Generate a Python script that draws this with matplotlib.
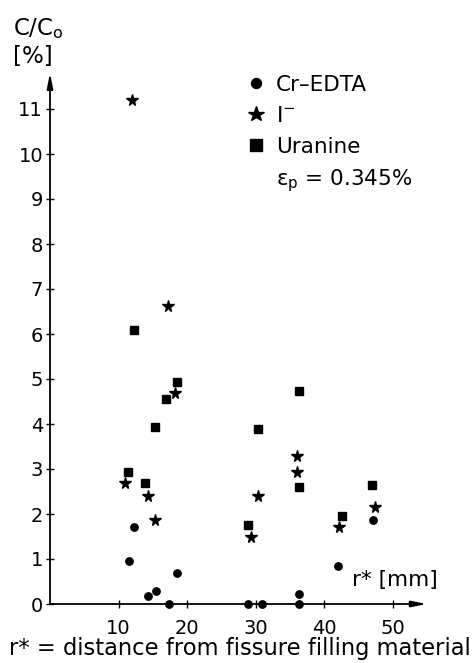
import matplotlib
matplotlib.use('Agg')
import matplotlib.pyplot as plt
from matplotlib.lines import Line2D

plt.rcParams['font.family'] = ['DejaVu Sans']
plt.rcParams['mathtext.fontset'] = 'dejavusans'

# distance r* [mm] and relative concentration C/Co [%]
cr_r = [11.5, 12.2, 14.3, 15.5, 17.4, 18.5, 28.9, 30.9, 36.3, 36.4, 42.0, 47.2]
cr_c = [0.95, 1.71, 0.17, 0.28, 0.0, 0.70, 0.0, 0.0, 0.0, 0.22, 0.85, 1.87]

iod_r = [10.9, 12.0, 14.3, 15.3, 17.2, 18.3, 29.4, 30.4, 36.1, 36.1, 42.2, 47.4]
iod_c = [2.70, 11.2, 2.41, 1.87, 6.62, 4.70, 1.50, 2.40, 3.29, 2.94, 1.72, 2.16]

ura_r = [11.4, 12.2, 13.8, 15.4, 16.9, 18.5, 28.9, 30.4, 36.3, 36.3, 42.6, 47.0]
ura_c = [2.94, 6.10, 2.69, 3.93, 4.56, 4.94, 1.76, 3.89, 4.74, 2.61, 1.96, 2.64]

xticks = [10, 20, 30, 40, 50]
yticks = list(range(12))

W, H = 474, 663
fig = plt.figure(figsize=(W / 100, H / 100), dpi=100)
ax = fig.add_axes([50 / W, 59 / H, 376.75 / W, 531 / H])
ax.set_xlim(0, 55)
ax.set_ylim(0, 11.8)

p_cr, = ax.plot(cr_r, cr_c, 'o', color='black', ms=5.3, clip_on=False)
p_iod, = ax.plot(iod_r, iod_c, '*', color='black', ms=8.5, clip_on=False)
p_ura, = ax.plot(ura_r, ura_c, 's', color='black', ms=6.3, clip_on=False)

for s in ax.spines.values():
    s.set_visible(False)

# axes drawn as arrows
arrow = dict(arrowstyle='-|>,head_length=0.9,head_width=0.18', lw=1.3,
             color='black', shrinkA=0, shrinkB=0)
ax.annotate('', xy=(1, 0), xytext=(0, 0), xycoords='axes fraction', arrowprops=arrow)
ax.annotate('', xy=(0, 1), xytext=(0, 0), xycoords='axes fraction', arrowprops=arrow)

ax.set_xticks(xticks)
ax.set_yticks(yticks)
ax.tick_params(direction='inout', length=6, width=1, labelsize=14)
ax.tick_params(axis='y', pad=2)
ax.tick_params(axis='x', pad=8)

fig.text(352 / W, 1 - 580 / H, 'r* [mm]', fontsize=15.5, va='center', ha='left')
fig.text(240 / W, 1 - 648 / H, 'r* = distance from fissure filling material',
         fontsize=16.3, ha='center', va='center')
fig.text(13 / W, 1 - 29 / H, r'C/C$_\mathregular{o}$', fontsize=16.5, ha='left', va='center')
fig.text(13 / W, 1 - 57 / H, '[%]', fontsize=16.5, ha='left', va='center')

eps = Line2D([], [], linestyle='none', marker='')
leg = ax.legend([p_cr, p_iod, p_ura, eps],
                ['Cr\u2013EDTA', 'I$^{-}$', 'Uranine', r'$\mathregular{\varepsilon_p}$ = 0.345%'],
                loc='upper left', bbox_to_anchor=(248 / W, 1 - 75 / H),
                bbox_transform=fig.transFigure, frameon=False, fontsize=15.5,
                borderpad=0, borderaxespad=0, handlelength=0.7, handletextpad=0.6,
                labelspacing=0.5, markerscale=1.35)

fig.savefig('out.png', dpi=100)
